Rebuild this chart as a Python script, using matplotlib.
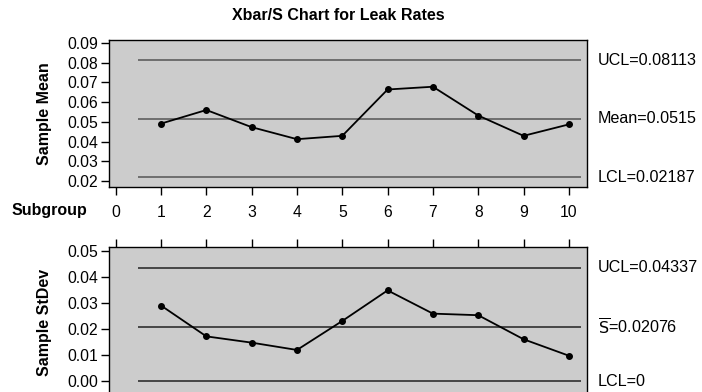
import matplotlib
matplotlib.use('Agg')
import matplotlib.pyplot as plt

plt.rcParams['font.family'] = ['Liberation Sans', 'DejaVu Sans']

# subgroup data
subgroups = [1, 2, 3, 4, 5, 6, 7, 8, 9, 10]
sample_means = [0.0491, 0.0560, 0.0473, 0.0412, 0.0429, 0.0664, 0.0678, 0.0532, 0.0429, 0.0487]
sample_sds = [0.0290, 0.0172, 0.0148, 0.0120, 0.0231, 0.0348, 0.0259, 0.0253, 0.0161, 0.0098]

# control limits
mean_limits = [0.08113, 0.0515, 0.02187]
mean_labels = ['UCL=0.08113', 'Mean=0.0515', 'LCL=0.02187']
sd_limits = [0.04337, 0.02076, 0.0]
sd_labels = ['UCL=0.04337', r'$\overline{\mathrm{S}}$=0.02076', 'LCL=0']

xticks = list(range(0, 11))
mean_yticks = [0.02, 0.03, 0.04, 0.05, 0.06, 0.07, 0.08, 0.09]
sd_yticks = [0.00, 0.01, 0.02, 0.03, 0.04, 0.05]

W, H = 702, 392
fig = plt.figure(figsize=(W / 100, H / 100), dpi=100)

def px_axes(left, top, right, bottom):
    return fig.add_axes([left / W, 1 - bottom / H, (right - left) / W, (bottom - top) / H])

ax1 = px_axes(109, 40, 587, 187)
ax2 = px_axes(109, 247, 587, 397)

bg = '#cccccc'
for ax in (ax1, ax2):
    ax.set_facecolor(bg)
    ax.set_xlim(-0.148, 10.40)
    for s in ax.spines.values():
        s.set_linewidth(1.0)
        s.set_color('black')
    ax.tick_params(axis='y', direction='out', length=6, width=1, labelsize=11.3, pad=2)

# Xbar chart
ax1.set_ylim(0.01695, 0.0915)
ax1.set_yticks(mean_yticks)
ax1.set_yticklabels([f'{v:.2f}' for v in mean_yticks])
for lim, lab in zip(mean_limits, mean_labels):
    ax1.hlines(lim, 0.5, 10.27, color='#555555', lw=1.1)
    ax1.annotate(lab, xy=(1.0, lim), xycoords=('axes fraction', 'data'),
                 xytext=(8, 0), textcoords='offset points', va='center', ha='left', fontsize=11.6)
ax1.plot(subgroups, sample_means, color='black', lw=1.3, marker='o', ms=4)
ax1.set_xticks(xticks)
ax1.set_xticklabels([str(v) for v in xticks], fontsize=11.3)
ax1.tick_params(axis='x', direction='out', length=6, width=1, pad=7)
ax1.set_ylabel('Sample Mean', fontsize=11.5, fontweight='bold', labelpad=11)

# S chart
ax2.set_ylim(-0.006, 0.0514)
ax2.set_yticks(sd_yticks)
ax2.set_yticklabels([f'{v:.2f}' for v in sd_yticks])
for lim, lab in zip(sd_limits, sd_labels):
    ax2.hlines(lim, 0.5, 10.27, color='#222222', lw=1.1)
    ax2.annotate(lab, xy=(1.0, lim), xycoords=('axes fraction', 'data'),
                 xytext=(8, 0), textcoords='offset points', va='center', ha='left', fontsize=11.6)
ax2.plot(subgroups, sample_sds, color='black', lw=1.3, marker='o', ms=4)
ax2.set_xticks(xticks)
ax2.tick_params(axis='x', direction='out', length=6, width=1,
                bottom=False, top=True, labelbottom=False, labeltop=False)
ax2.set_ylabel('Sample StDev', fontsize=11.5, fontweight='bold', labelpad=11)

fig.text(338 / W, 1 - 15 / H, 'Xbar/S Chart for Leak Rates', ha='center', va='center',
         fontsize=11.5, fontweight='bold')
fig.text(49 / W, 1 - 211 / H, 'Subgroup', ha='center', va='center',
         fontsize=11.5, fontweight='bold')

fig.savefig('out.png', dpi=100)
